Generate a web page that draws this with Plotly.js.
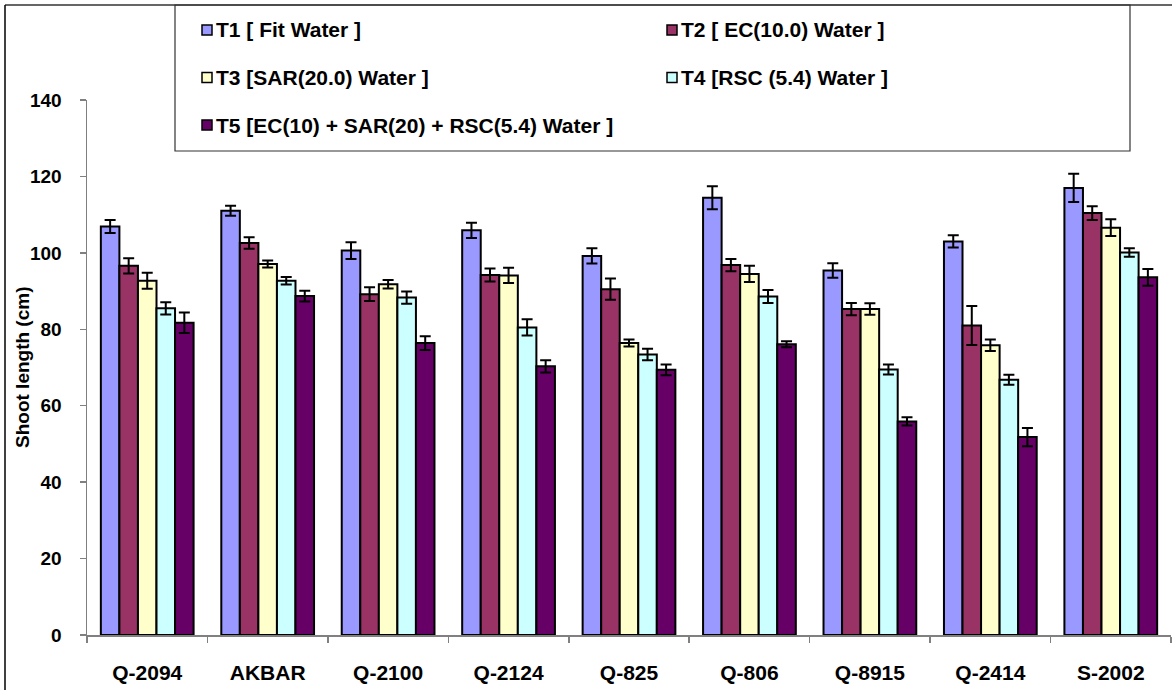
<!DOCTYPE html>
<html>
<head>
<meta charset="utf-8">
<script src="https://cdn.plot.ly/plotly-3.0.1.min.js"></script>
<style>
  html, body { margin: 0; padding: 0; background: #ffffff; overflow: hidden; }
  #chart { width: 1172px; height: 690px; }
</style>
</head>
<body>
<div id="chart"></div>
<script>
// ---- data ----
const varieties = ["Q-2094", "AKBAR", "Q-2100", "Q-2124", "Q-825", "Q-806", "Q-8915", "Q-2414", "S-2002"];

const seriesNames = [
  "T1 [ Fit Water ]",
  "T2 [ EC(10.0) Water ]",
  "T3 [SAR(20.0) Water ]",
  "T4 [RSC (5.4) Water ]",
  "T5 [EC(10) + SAR(20) + RSC(5.4) Water ]"
];

const t1 = [106.9, 111.0, 100.6, 105.9, 99.2, 114.4, 95.4, 103.0, 117.0];
const t2 = [96.6, 102.6, 89.2, 94.2, 90.5, 96.8, 85.3, 81.0, 110.4];
const t3 = [92.7, 97.1, 91.8, 94.1, 76.4, 94.5, 85.3, 75.8, 106.6];
const t4 = [85.5, 92.7, 88.3, 80.5, 73.4, 88.6, 69.5, 66.8, 100.1];
const t5 = [81.7, 88.7, 76.4, 70.3, 69.4, 76.1, 55.9, 51.8, 93.6];

const e1 = [1.7, 1.3, 2.2, 2.0, 2.0, 3.0, 1.9, 1.6, 3.7];
const e2 = [2.0, 1.5, 1.8, 1.7, 2.8, 1.6, 1.6, 5.1, 1.8];
const e3 = [2.1, 0.9, 1.1, 2.0, 0.9, 2.1, 1.5, 1.5, 2.2];
const e4 = [1.6, 1.0, 1.6, 2.1, 1.5, 1.7, 1.3, 1.3, 1.1];
const e5 = [2.7, 1.4, 1.8, 1.6, 1.4, 0.8, 1.1, 2.4, 2.2];

const yTicks = [0, 20, 40, 60, 80, 100, 120, 140];
const colors = ["#9999FF", "#993366", "#FFFFCC", "#CCFFFF", "#660066"];

const values = [t1, t2, t3, t4, t5];
const errors = [e1, e2, e3, e4, e5];

// ---- geometry helpers (pixel -> paper) ----
const W = 1172, H = 690;
const M = { l: 87, r: 1, t: 100, b: 55 };
const PW = W - M.l - M.r, PH = H - M.t - M.b;
const px = x => (x - M.l) / PW;
const py = y => (H - M.b - y) / PH;

const FONT = "Liberation Sans, Arial, Helvetica, sans-serif";

const traces = values.map((v, i) => ({
  type: "bar",
  name: seriesNames[i],
  x: varieties,
  y: v,
  marker: { color: colors[i], line: { color: "#000000", width: 2 } },
  error_y: { type: "data", array: errors[i], visible: true, color: "#000000", thickness: 2, width: 5.5 },
  showlegend: false,
  hoverinfo: "x+y+name"
}));

// custom legend (two columns, three rows)
const legendShapes = [];
const legendAnnots = [];
const colX = [202, 667];
const rowY = [30, 77.5, 125];
seriesNames.forEach((name, i) => {
  const cx = colX[i % 2];
  const cy = rowY[Math.floor(i / 2)];
  legendShapes.push({
    type: "rect", xref: "paper", yref: "paper", layer: "above",
    x0: px(cx), x1: px(cx + 10), y0: py(cy + 5), y1: py(cy - 5),
    fillcolor: colors[i], line: { color: "#000000", width: 1.5 }
  });
  legendAnnots.push({
    xref: "paper", yref: "paper", x: px(cx + 12), y: py(cy),
    xanchor: "left", yanchor: "middle", showarrow: false,
    text: name,
    font: { family: FONT, size: 21, color: "#000000", weight: "bold" }
  });
});

const frameShapes = [
  // outer chart frame (top and left edges visible)
  { type: "line", xref: "paper", yref: "paper", x0: px(5), x1: px(1172), y0: py(5), y1: py(5), line: { color: "#333333", width: 1.5 } },
  { type: "line", xref: "paper", yref: "paper", x0: px(5), x1: px(5), y0: py(5), y1: py(690), line: { color: "#000000", width: 1.5 } },
  // legend box
  { type: "rect", xref: "paper", yref: "paper", x0: px(175), x1: px(1130), y0: py(151), y1: py(5), line: { color: "#333333", width: 1.2 }, fillcolor: "rgba(0,0,0,0)" }
];

const layout = {
  width: W, height: H,
  margin: M,
  paper_bgcolor: "#ffffff",
  plot_bgcolor: "#ffffff",
  barmode: "group",
  bargap: 0.23,
  bargroupgap: 0,
  showlegend: false,
  font: { family: FONT, color: "#000000" },
  xaxis: {
    type: "category",
    showline: true, linecolor: "#808080", linewidth: 1.5,
    ticks: "outside", tickson: "boundaries", ticklen: 6, tickcolor: "#808080", tickwidth: 1.5,
    showgrid: false, zeroline: false,
    tickfont: { family: FONT, size: 21, color: "#000000", weight: "bold" },
    ticklabelstandoff: 18
  },
  yaxis: {
    range: [0, 140],
    tickvals: yTicks,
    ticktext: yTicks.map(String),
    showline: true, linecolor: "#808080", linewidth: 1.5,
    ticks: "outside", ticklen: 6, tickcolor: "#808080", tickwidth: 1.5,
    showgrid: false, zeroline: false,
    tickfont: { family: FONT, size: 19, color: "#000000", weight: "bold" },
    ticklabelstandoff: 14
  },
  shapes: frameShapes.concat(legendShapes),
  annotations: legendAnnots.concat([{
    xref: "paper", yref: "paper", x: px(22), y: py(368),
    xanchor: "center", yanchor: "middle", showarrow: false, textangle: -90,
    text: "Shoot length (cm)",
    font: { family: FONT, size: 19, color: "#000000", weight: "bold" }
  }])
};

Plotly.newPlot("chart", traces, layout, { staticPlot: true, displayModeBar: false });
</script>
</body>
</html>
